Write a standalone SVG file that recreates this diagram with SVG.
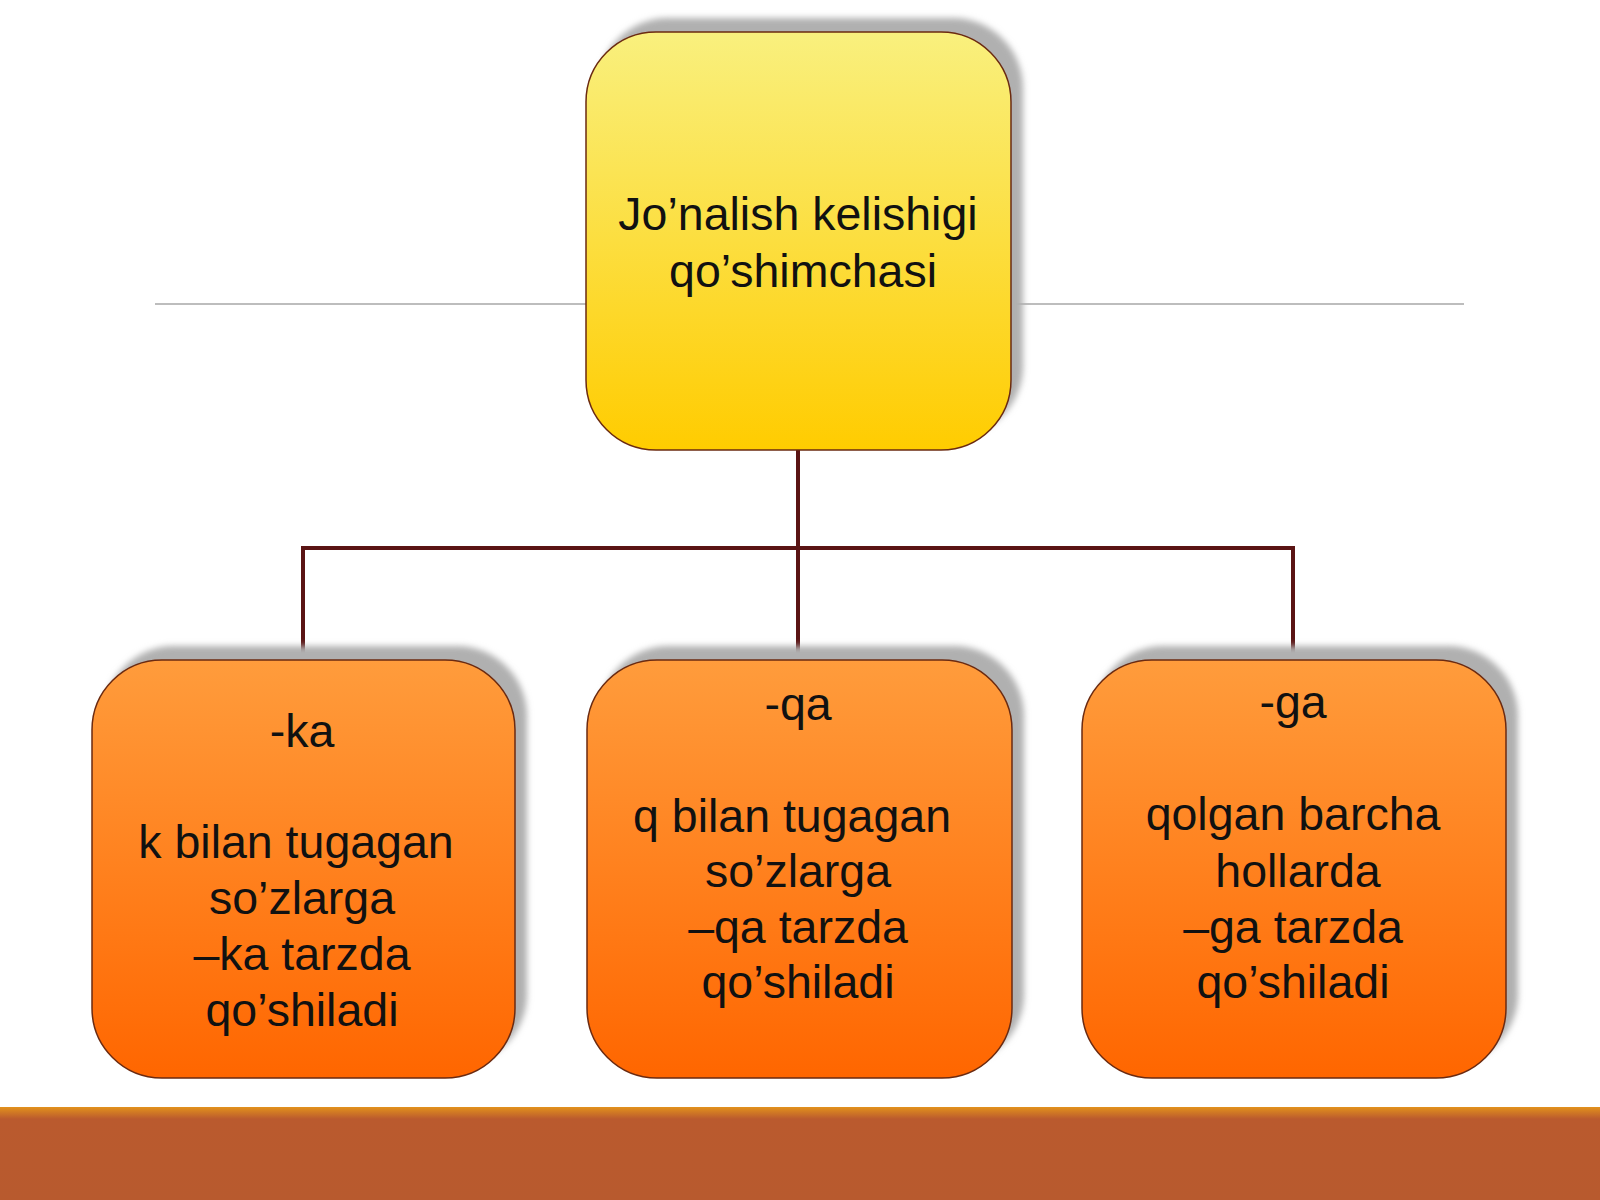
<svg xmlns="http://www.w3.org/2000/svg" width="1600" height="1200" viewBox="0 0 1600 1200">
<defs>
<linearGradient id="gYellow" x1="0" y1="0" x2="0" y2="1">
<stop offset="0" stop-color="#f9f07e"/>
<stop offset="1" stop-color="#ffcc00"/>
</linearGradient>
<linearGradient id="gOrange" x1="0" y1="0" x2="0" y2="1">
<stop offset="0" stop-color="#ff9c3c"/>
<stop offset="1" stop-color="#ff6600"/>
</linearGradient>
<linearGradient id="gBar" x1="0" y1="0" x2="0" y2="1">
<stop offset="0" stop-color="#e2911c"/>
<stop offset="0.13" stop-color="#ba5a2e"/>
<stop offset="1" stop-color="#b85a2e"/>
</linearGradient>
<filter id="blur" x="-10%" y="-10%" width="120%" height="120%">
<feGaussianBlur stdDeviation="3"/>
</filter>
</defs>
<style>
.shadow{fill:#b0b0b0;filter:url(#blur)}
.box{stroke:#6b2a10;stroke-width:1.5}
.top{fill:url(#gYellow)}
.child{fill:url(#gOrange)}
.lbl{font-family:"Liberation Sans",Arial,sans-serif;font-size:46.5px;fill:#111111;text-anchor:middle}
.conn{fill:none;stroke:#5a1414;stroke-width:4}
</style>
<rect width="1600" height="1200" fill="#ffffff"/>
<line x1="155" y1="304" x2="1464" y2="304" stroke="#bdbdbd" stroke-width="2"/>
<rect x="0" y="1107" width="1600" height="93" fill="url(#gBar)"/>

<g id="connectors">
<path class="conn" d="M798 450 V660"/>
<path class="conn" d="M303 660 V548 H1293 V660"/>
</g>

<g id="node-top">
<rect class="shadow" x="598" y="18" width="425" height="418" rx="70"/>
<rect class="box top" x="586" y="32" width="425" height="418" rx="70"/>
<text class="lbl" x="798" y="230">Jo’nalish kelishigi</text>
<text class="lbl" x="803" y="287">qo’shimchasi</text>
</g>

<g id="node-ka">
<rect class="shadow" x="104" y="646" width="423" height="418" rx="70"/>
<rect class="box child" x="92" y="660" width="423" height="418" rx="70"/>
<text class="lbl" x="302" y="747">-ka</text>
<text class="lbl" x="296" y="858">k bilan tugagan</text>
<text class="lbl" x="302" y="914">so’zlarga</text>
<text class="lbl" x="302" y="970">–ka tarzda</text>
<text class="lbl" x="302" y="1026">qo’shiladi</text>
</g>

<g id="node-qa">
<rect class="shadow" x="599" y="646" width="425" height="418" rx="70"/>
<rect class="box child" x="587" y="660" width="425" height="418" rx="70"/>
<text class="lbl" x="798" y="720">-qa</text>
<text class="lbl" x="792" y="832">q bilan tugagan</text>
<text class="lbl" x="798" y="887">so’zlarga</text>
<text class="lbl" x="798" y="943">–qa tarzda</text>
<text class="lbl" x="798" y="998">qo’shiladi</text>
</g>

<g id="node-ga">
<rect class="shadow" x="1094" y="646" width="424" height="418" rx="70"/>
<rect class="box child" x="1082" y="660" width="424" height="418" rx="70"/>
<text class="lbl" x="1293" y="718">-ga</text>
<text class="lbl" x="1293" y="830">qolgan barcha</text>
<text class="lbl" x="1298" y="887">hollarda</text>
<text class="lbl" x="1293" y="943">–ga tarzda</text>
<text class="lbl" x="1293" y="998">qo’shiladi</text>
</g>
</svg>
